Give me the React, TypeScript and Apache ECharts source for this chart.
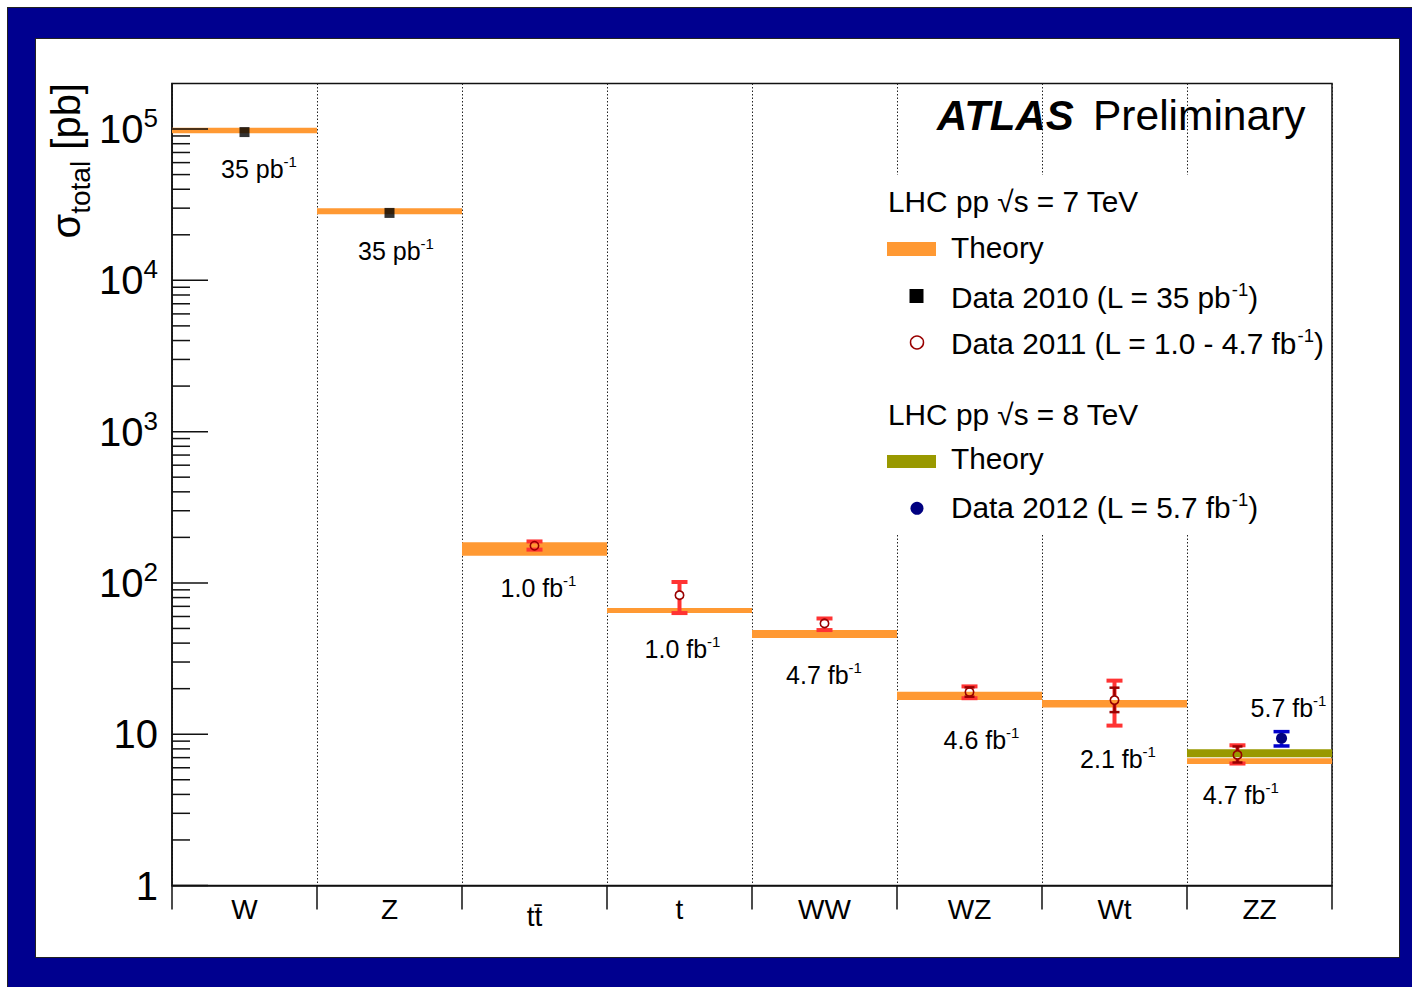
import React, { useEffect, useRef } from 'react';
import * as echarts from 'echarts';

// ---------- data (values in pb) ----------
const CATEGORIES = ['W', 'Z', 'tt\u0304', 't', 'WW', 'WZ', 'Wt', 'ZZ'];
const Y_DECADES = [1, 10, 100, 1000, 10000, 100000];

// LHC 7 TeV theory band (low / high edge)
const THEORY7_LO = [93700, 27300, 151, 63.2, 43.2, 16.8, 15.0, 6.35];
const THEORY7_HI = [102000, 29900, 186, 68.2, 48.8, 19.1, 16.8, 6.93];
// LHC 8 TeV theory band
const THEORY8_LO = [null, null, null, null, null, null, null, 7.03];
const THEORY8_HI = [null, null, null, null, null, null, null, 7.94];

// Data 2010
const DATA2010 = [95500, 27900, null, null, null, null, null, null];
// Data 2011
const DATA2011 = [null, null, 176, 83, 54, 19.0, 16.8, 7.3];
const DATA2011_TOT_LO = [null, null, 166, 63.2, 48.8, 17.3, 11.4, 6.4];
const DATA2011_TOT_HI = [null, null, 188, 101.4, 58.2, 20.7, 22.6, 8.45];
const DATA2011_STAT_LO = [null, null, null, null, null, 17.7, 14.0, 6.5];
const DATA2011_STAT_HI = [null, null, null, null, null, 20.4, 20.3, 8.3];
// Data 2012
const DATA2012 = [null, null, null, null, null, null, null, 9.4];
const DATA2012_LO = [null, null, null, null, null, null, null, 8.36];
const DATA2012_HI = [null, null, null, null, null, null, null, 10.4];

// integrated luminosity labels
const LUMI_LABELS = ['35 pb', '35 pb', '1.0 fb', '1.0 fb', '4.7 fb', '4.6 fb', '2.1 fb', '4.7 fb'];
const LUMI_2012_LABEL = '5.7 fb';

// ---------- layout (pixels / fractions, not data) ----------
const LUMI_DX = [14.5, 6.5, 4, 3, -0.5, 12, 3.5, -18.7];
const LUMI_DY = [36, 37, 32, 36, 37, 40, 51, 31];
const LUMI_2012_DX = 29;
const LUMI_2012_DY = -41;
const SHIFT_2011 = [0, 0, 0, 0, 0, 0, 0, -0.152];
const SHIFT_2012 = 0.152;

const FONT = "'Liberation Sans', Arial, Helvetica, sans-serif";
const ORANGE = '#ff9933';
const OLIVE = '#999900';
const RED = '#ff3333';
const DARKRED = '#990000';
const NAVY = '#000080';
const BLUE = '#0000cc';
const LEG_FONT = 29.8;

function supStyle(main: string, size: number, supSize: number, lh: number, supLh: number, align = 'center') {
  return {
    text: `{m|${main}}{s|-1}`,
    rich: {
      m: { fontSize: size, fontFamily: FONT, fill: '#000', lineHeight: lh },
      s: { fontSize: supSize, fontFamily: FONT, fill: '#000', lineHeight: supLh, verticalAlign: 'top' },
    },
    fill: '#000',
    align,
    verticalAlign: 'middle',
  };
}

function legendText(x: number, y: number, main: string, tail?: string) {
  const text = tail === undefined ? `{m|${main}}` : `{m|${main}}{s|-1}{m|${tail}}`;
  return {
    type: 'text',
    x,
    y,
    z: 20,
    silent: true,
    style: {
      text,
      rich: {
        m: { fontSize: LEG_FONT, fontFamily: FONT, fill: '#000', lineHeight: 35 },
        s: { fontSize: 18.5, fontFamily: FONT, fill: '#000', lineHeight: 16, verticalAlign: 'top' },
      },
      fill: '#000',
      align: 'left',
      verticalAlign: 'middle',
    },
  };
}

function pushErr(children: any[], x: number, yC: number, yLo: number, yHi: number, r: number,
  color: string, barW: number, capW: number, capH: number) {
  if (yC - r > yHi) {
    children.push({ type: 'rect', shape: { x: x - barW / 2, y: yHi, width: barW, height: yC - r - yHi }, style: { fill: color } });
  }
  if (yLo > yC + r) {
    children.push({ type: 'rect', shape: { x: x - barW / 2, y: yC + r, width: barW, height: yLo - yC - r }, style: { fill: color } });
  }
  children.push({ type: 'rect', shape: { x: x - capW / 2, y: yHi - capH / 2, width: capW, height: capH }, style: { fill: color } });
  children.push({ type: 'rect', shape: { x: x - capW / 2, y: yLo - capH / 2, width: capW, height: capH }, style: { fill: color } });
}

function bandSeries(name: string, lo: (number | null)[], hi: (number | null)[], color: string) {
  const data: number[][] = [];
  lo.forEach((l, i) => {
    const h = hi[i];
    if (l != null && h != null) data.push([i, l, h]);
  });
  return {
    type: 'custom',
    name,
    z: 3,
    silent: true,
    data,
    encode: { x: 0, y: [1, 2] },
    renderItem: (params: any, api: any) => {
      const i = api.value(0);
      const top = api.coord([i, api.value(2)]);
      const bot = api.coord([i, api.value(1)]);
      const bw = api.size([1, 1], [i, 10])[0];
      return {
        type: 'rect',
        shape: { x: top[0] - bw / 2, y: top[1], width: bw, height: bot[1] - top[1] },
        style: { fill: color },
      };
    },
  };
}

function buildOption() {
  const minorTicks: number[] = [];
  Y_DECADES.forEach((d) => {
    for (let m = 2; m <= 9; m++) {
      const v = m * d;
      if (v < 200000) minorTicks.push(v);
    }
  });

  const data2011 = DATA2011.map((v, i) => (v == null ? null : [i, v])).filter(Boolean);
  const data2012 = DATA2012.map((v, i) => (v == null ? null : [i, v])).filter(Boolean);
  const data2010 = DATA2010.map((v, i) => (v == null ? null : [i, v])).filter(Boolean);

  return {
    animation: false,
    grid: {
      left: 164,
      right: 80,
      top: 75.5,
      bottom: 101.5,
      show: true,
      borderColor: '#111',
      borderWidth: 1.5,
      backgroundColor: 'transparent',
    },
    xAxis: {
      type: 'category',
      data: CATEGORIES,
      boundaryGap: true,
      axisLine: { show: true, lineStyle: { color: '#111', width: 1.5 } },
      axisTick: { show: true, length: 24, inside: false, interval: 0, lineStyle: { color: '#111', width: 1.5 } },
      axisLabel: {
        interval: 0,
        margin: 10,
        fontSize: 28,
        fontFamily: FONT,
        color: '#000',
        formatter: (v: string) => (v === CATEGORIES[2] ? `{tt|${v}}` : v),
        rich: { tt: { fontSize: 28, fontFamily: FONT, color: '#000', padding: [7, 0, 0, 0] } },
      },
      splitLine: { show: true, lineStyle: { type: [1.5, 2], color: '#222', width: 1 } },
    },
    yAxis: {
      type: 'log',
      logBase: 10,
      min: 1,
      max: 200000,
      axisLine: { show: true, lineStyle: { color: '#111', width: 1.5 } },
      axisTick: { show: false },
      splitLine: { show: false },
      axisLabel: {
        margin: 14,
        formatter: (v: number) => {
          const e = Math.log10(v);
          const k = Math.round(e);
          if (Math.abs(e - k) > 1e-6) return '';
          if (k === 0) return '{b|1}';
          if (k === 1) return '{b|10}';
          return `{b|10}{s|${k}}`;
        },
        rich: {
          b: { fontSize: 40, fontFamily: FONT, color: '#000', lineHeight: 48 },
          s: { fontSize: 26, fontFamily: FONT, color: '#000', lineHeight: 20, verticalAlign: 'top' },
        },
      },
    },
    graphic: [
      // y axis title
      {
        type: 'text',
        x: 58,
        y: 75,
        rotation: Math.PI / 2,
        z: 20,
        silent: true,
        style: {
          text: '{a|σ}{s|total}{a| [pb]}',
          rich: {
            a: { fontSize: 40, fontFamily: FONT, fill: '#000', lineHeight: 56 },
            s: { fontSize: 28, fontFamily: FONT, fill: '#000', lineHeight: 20, verticalAlign: 'bottom' },
          },
          fill: '#000',
          align: 'right',
          verticalAlign: 'middle',
        },
      },
      // ATLAS Preliminary
      {
        type: 'text', x: 929, y: 107.5, z: 20, silent: true,
        style: { text: 'ATLAS', fontSize: 42, fontFamily: FONT, fontWeight: 'bold', fontStyle: 'italic', fill: '#000', align: 'left', verticalAlign: 'middle' },
      },
      {
        type: 'text', x: 1085, y: 107.5, z: 20, silent: true,
        style: { text: 'Preliminary', fontSize: 42.5, fontFamily: FONT, fill: '#000', align: 'left', verticalAlign: 'middle' },
      },
      // legend background
      { type: 'rect', z: 10, silent: true, shape: { x: 872, y: 167, width: 451, height: 360 }, style: { fill: '#fff' } },
      legendText(880, 193, 'LHC pp √s = 7 TeV'),
      { type: 'rect', z: 20, silent: true, shape: { x: 879, y: 234, width: 49, height: 14 }, style: { fill: ORANGE } },
      legendText(943, 239, 'Theory'),
      { type: 'rect', z: 20, silent: true, shape: { x: 901.5, y: 281, width: 14, height: 14 }, style: { fill: '#000' } },
      legendText(943, 289, 'Data 2010 (L = 35 pb', ')'),
      { type: 'circle', z: 20, silent: true, shape: { cx: 909, cy: 334.5, r: 6.5 }, style: { fill: 'none', stroke: DARKRED, lineWidth: 1.5 } },
      legendText(943, 335, 'Data 2011 (L = 1.0 - 4.7 fb', ')'),
      legendText(880, 406, 'LHC pp √s = 8 TeV'),
      { type: 'rect', z: 20, silent: true, shape: { x: 879, y: 447, width: 49, height: 13 }, style: { fill: OLIVE } },
      legendText(943, 450, 'Theory'),
      { type: 'circle', z: 20, silent: true, shape: { cx: 909, cy: 500.3, r: 6.5 }, style: { fill: NAVY } },
      legendText(943, 499, 'Data 2012 (L = 5.7 fb', ')'),
    ],
    series: [
      bandSeries('Theory 7 TeV', THEORY7_LO, THEORY7_HI, ORANGE),
      bandSeries('Theory 8 TeV', THEORY8_LO, THEORY8_HI, OLIVE),
      {
        type: 'scatter',
        name: 'Data 2010',
        symbol: 'rect',
        symbolSize: 10,
        z: 6,
        silent: true,
        itemStyle: { color: '#000' },
        data: data2010,
      },
      {
        type: 'custom',
        name: 'Data 2011',
        z: 6,
        silent: true,
        data: data2011,
        encode: { x: 0, y: 1 },
        renderItem: (params: any, api: any) => {
          const i = api.value(0);
          const v = api.value(1);
          const bw = api.size([1, 1], [i, 10])[0];
          const c = api.coord([i, v]);
          const x = c[0] + SHIFT_2011[i] * bw;
          const yC = c[1];
          const r = 4.5;
          const children: any[] = [];
          const tLo = DATA2011_TOT_LO[i];
          const tHi = DATA2011_TOT_HI[i];
          if (tLo != null && tHi != null) {
            pushErr(children, x, yC, api.coord([i, tLo])[1], api.coord([i, tHi])[1], r, RED, 4, 16, 4);
          }
          const sLo = DATA2011_STAT_LO[i];
          const sHi = DATA2011_STAT_HI[i];
          if (sLo != null && sHi != null) {
            pushErr(children, x, yC, api.coord([i, sLo])[1], api.coord([i, sHi])[1], r, DARKRED, 2.5, 10, 2.5);
          }
          children.push({ type: 'circle', shape: { cx: x, cy: yC, r: 4.2 }, style: { fill: 'none', stroke: DARKRED, lineWidth: 1.6 } });
          return { type: 'group', children };
        },
      },
      {
        type: 'custom',
        name: 'Data 2012',
        z: 6,
        silent: true,
        data: data2012,
        encode: { x: 0, y: 1 },
        renderItem: (params: any, api: any) => {
          const i = api.value(0);
          const v = api.value(1);
          const bw = api.size([1, 1], [i, 10])[0];
          const c = api.coord([i, v]);
          const x = c[0] + SHIFT_2012 * bw;
          const yC = c[1];
          const children: any[] = [];
          const lo = DATA2012_LO[i];
          const hi = DATA2012_HI[i];
          if (lo != null && hi != null) {
            pushErr(children, x, yC, api.coord([i, lo])[1], api.coord([i, hi])[1], 5, BLUE, 3.5, 16, 3.5);
          }
          children.push({ type: 'circle', shape: { cx: x, cy: yC, r: 5.5 }, style: { fill: NAVY } });
          return { type: 'group', children };
        },
      },
      // luminosity labels
      {
        type: 'custom',
        name: 'lumi',
        z: 7,
        silent: true,
        data: LUMI_LABELS.map((t, i) => [i, THEORY7_LO[i] as number]),
        encode: { x: 0, y: 1 },
        renderItem: (params: any, api: any) => {
          const i = api.value(0);
          const c = api.coord([i, api.value(1)]);
          return {
            type: 'text',
            x: c[0] + LUMI_DX[i],
            y: c[1] + LUMI_DY[i],
            style: supStyle(LUMI_LABELS[i], 25, 15, 30, 14),
          };
        },
      },
      {
        type: 'custom',
        name: 'lumi2012',
        z: 7,
        silent: true,
        data: [[7, THEORY8_HI[7] as number]],
        encode: { x: 0, y: 1 },
        renderItem: (params: any, api: any) => {
          const i = api.value(0);
          const c = api.coord([i, api.value(1)]);
          return {
            type: 'text',
            x: c[0] + LUMI_2012_DX,
            y: c[1] + LUMI_2012_DY,
            style: supStyle(LUMI_2012_LABEL, 25, 15, 30, 14),
          };
        },
      },
      // log-axis ticks (major + minor), drawn inward
      {
        type: 'custom',
        name: 'yticks',
        z: 8,
        silent: true,
        data: [[0, 1]],
        encode: { x: 0, y: 1 },
        renderItem: (params: any, api: any) => {
          const bw = api.size([1, 1], [0, 10])[0];
          const children: any[] = [];
          const add = (v: number, len: number) => {
            const p = api.coord([0, v]);
            const x0 = p[0] - bw / 2;
            children.push({
              type: 'line',
              shape: { x1: x0, y1: p[1], x2: x0 + len, y2: p[1] },
              style: { stroke: '#111', lineWidth: 1.5 },
            });
          };
          Y_DECADES.forEach((d) => add(d, 36));
          minorTicks.forEach((m) => add(m, 18));
          return { type: 'group', children };
        },
      },
    ],
  };
}

export default function App() {
  const ref = useRef<HTMLDivElement>(null);
  useEffect(() => {
    if (!ref.current) return;
    const chart = echarts.init(ref.current, null, { renderer: 'svg' });
    chart.setOption(buildOption() as any);
    return () => chart.dispose();
  }, []);
  return (
    <div
      style={{
        position: 'fixed',
        left: 7,
        top: 7,
        width: 1430,
        height: 1000,
        background: '#00008f',
        boxSizing: 'border-box',
        borderLeft: '1px solid #222',
        borderTop: '1px solid #222',
        overflow: 'hidden',
      }}
    >
      <div
        style={{
          position: 'absolute',
          left: 27,
          top: 30,
          width: 1365,
          height: 920,
          background: '#fff',
          border: '1px solid #222',
          boxSizing: 'border-box',
        }}
      />
      <div ref={ref} style={{ position: 'absolute', left: 0, top: 0, width: 1404, height: 979 }} />
    </div>
  );
}
